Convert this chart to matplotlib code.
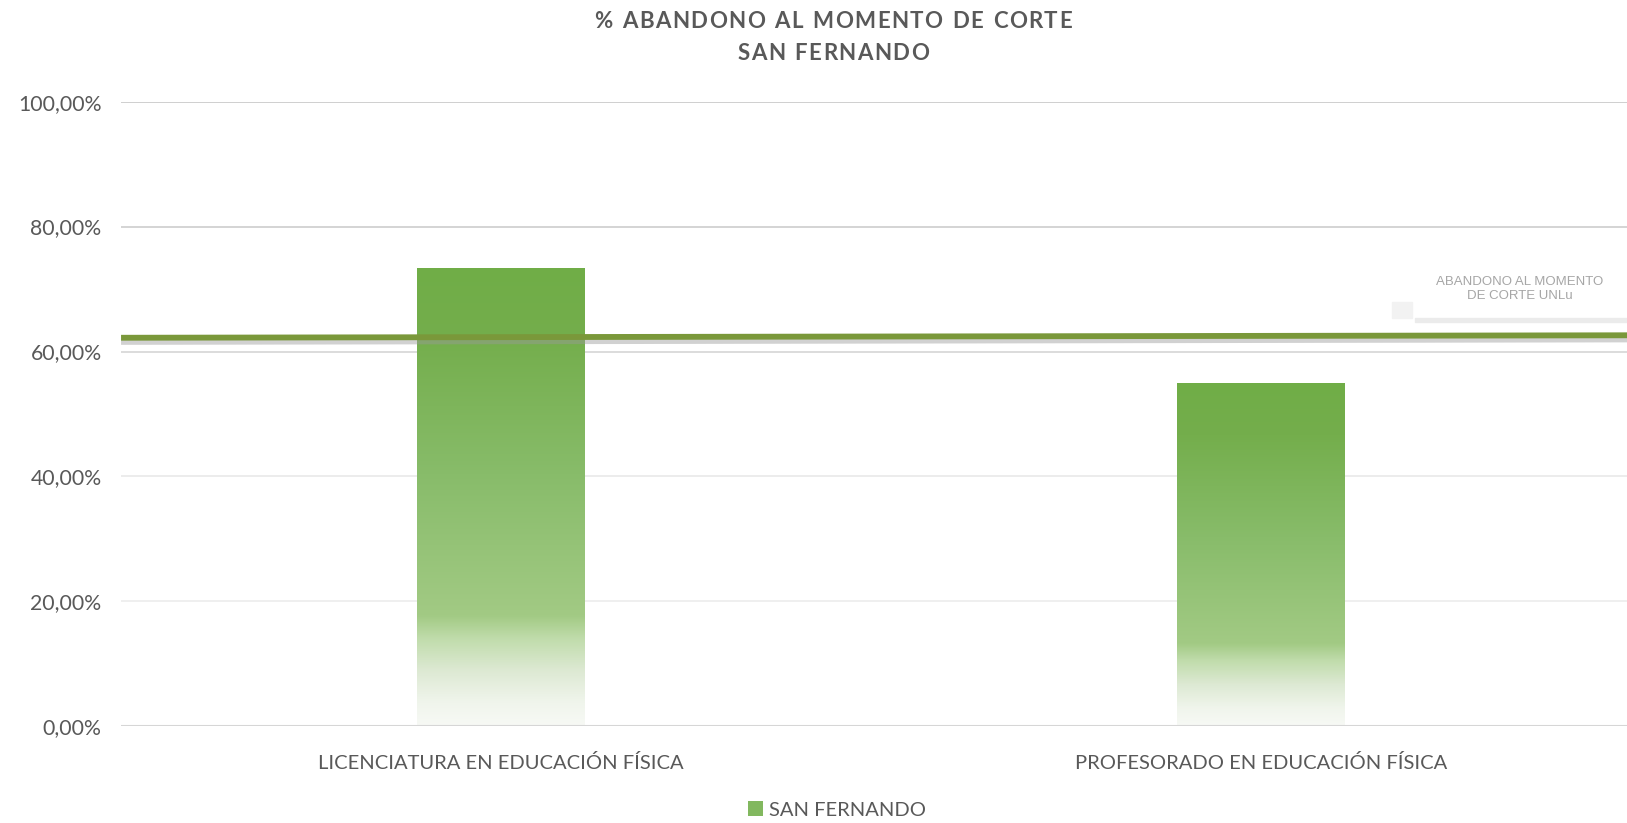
import matplotlib
matplotlib.use("Agg")
import matplotlib.pyplot as plt
import matplotlib.patheffects as pe
from matplotlib.colors import LinearSegmentedColormap
from matplotlib.patches import Patch, Rectangle
import numpy as np

# data
carreras = ["LICENCIATURA EN EDUCACIÓN FÍSICA", "PROFESORADO EN EDUCACIÓN FÍSICA"]
san_fernando = [73.2, 54.8]
abandono_unlu = [62.2, 62.6]
y_ticks = [0, 20, 40, 60, 80, 100]
y_tick_labels = ["0,00%", "20,00%", "40,00%", "60,00%", "80,00%", "100,00%"]

plt.rcParams["font.family"] = ["Lato", "DejaVu Sans"]
txt_gray = "#595959"

fig = plt.figure(figsize=(16.27, 8.23), dpi=100)
ax = fig.add_axes([0.0744, 0.1175, 0.934, 0.759])

# gradient fill: light at the bottom, solid green at the top
grad = LinearSegmentedColormap.from_list("verde", [
    (0.00, "#f7f9f5"),
    (0.05, "#f0f5ec"),
    (0.12, "#dde9d3"),
    (0.19, "#c0dcab"),
    (0.24, "#a2ca84"),
    (0.55, "#88bc6a"),
    (0.85, "#74ae4c"),
    (1.00, "#70ad47"),
])
ramp = np.linspace(0, 1, 256).reshape(-1, 1)
bar_w = 0.22
x = np.arange(len(carreras))
for xi, val in zip(x, san_fernando):
    ax.imshow(ramp, cmap=grad, origin="lower", aspect="auto",
              extent=[xi - bar_w / 2, xi + bar_w / 2, 0, val], zorder=2)

ax.set_xlim(-0.5, 1.5)
ax.set_ylim(0, 100)

# grid and axes (upper lines print darker in the original)
grid_cols = {20: "#efefef", 40: "#ececec", 60: "#dcdcdc", 80: "#d4d4d4", 100: "#cfcfcf"}
for t in y_ticks[1:]:
    ax.axhline(t, color=grid_cols[t], lw=1.4, zorder=1)
ax.axhline(0, color="#d6d6d6", lw=1.5, zorder=3)
for s in ax.spines.values():
    s.set_visible(False)
ax.set_yticks(y_ticks)
ax.set_yticklabels(y_tick_labels, fontsize=15.3, color=txt_gray)
ax.set_xticks(x)
ax.set_xticklabels(carreras, fontsize=14.5, color=txt_gray)
ax.tick_params(length=0)
ax.tick_params(axis="y", pad=14)
ax.tick_params(axis="x", pad=20)

# reference line (UNLu), drawn across the whole plot area
ax2 = ax.twiny()
ax2.plot([0, 1], abandono_unlu, color="#7a983a", lw=4.2, zorder=5,
         solid_capstyle="butt",
         path_effects=[pe.SimpleLineShadow(offset=(0, -3), shadow_color="#9a9a9a", alpha=0.45),
                       pe.Normal()])
ax2.set_xlim(0, 1)
ax2.axis("off")

# label box with its soft shadow
fig.patches.append(Rectangle((1415 / 1627, 1 - 322 / 823), 212 / 1627, 4 / 823,
                             transform=fig.transFigure, color="#ebebeb", zorder=4))
fig.patches.append(Rectangle((1392 / 1627, 1 - 318 / 823), 20 / 1627, 16 / 823,
                             transform=fig.transFigure, color="#f2f2f2", zorder=4))
fig.text(1520 / 1627, 1 - 289 / 823, "ABANDONO AL MOMENTO\nDE CORTE UNLu",
         ha="center", va="center", fontsize=9.5, color="#a6a6a6",
         family=["Liberation Sans", "DejaVu Sans"], linespacing=1.25)

# title, letter-spaced like the original
def spaced_title(text, ypix, size=16, extra_px=1.4):
    fp = dict(fontsize=size, fontweight="bold", color=txt_gray, family=["Lato", "DejaVu Sans"])
    r = fig.canvas.get_renderer()
    widths = []
    for ch in text:
        t = fig.text(0, 0, ch if ch != " " else "i", **fp)
        w = t.get_window_extent(r).width
        if ch == " ":
            w *= 1.2
        widths.append(w)
        t.remove()
    total = sum(widths) + extra_px * (len(text) - 1)
    xpos = 833 - total / 2
    for ch, w in zip(text, widths):
        if ch != " ":
            fig.text(xpos / 1627, 1 - ypix / 823, ch, ha="left", va="center", **fp)
        xpos += w + extra_px

spaced_title("% ABANDONO AL MOMENTO DE CORTE", 21)
spaced_title("SAN FERNANDO", 53)

leg = fig.legend(handles=[Patch(facecolor="#82b85f", edgecolor="none", label="SAN FERNANDO")],
                 loc="center", bbox_to_anchor=(837 / 1627, 1 - 810 / 823), frameon=False,
                 fontsize=14.5, handlelength=0.7, handleheight=0.7, handletextpad=0.3)
for t in leg.get_texts():
    t.set_color(txt_gray)

fig.savefig("out.png", dpi=100)
